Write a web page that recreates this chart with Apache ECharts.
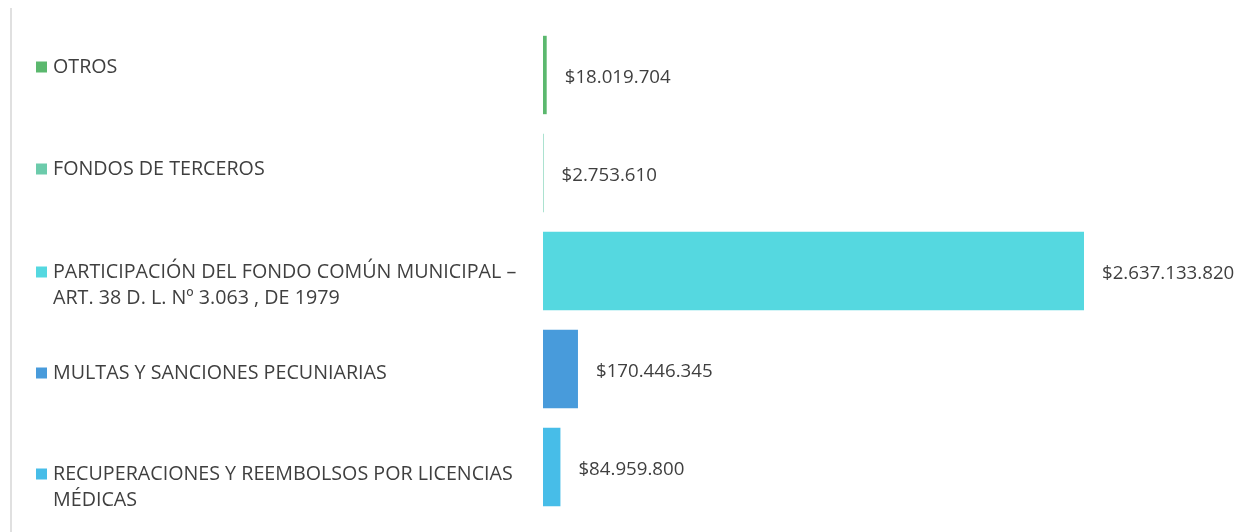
<!DOCTYPE html>
<html>
<head>
<meta charset="utf-8">
<script src="https://cdn.jsdelivr.net/npm/echarts@6/dist/echarts.min.js"></script>
<style>
  html, body { margin: 0; padding: 0; background: #fff; }
  #chart { width: 1247px; height: 532px; }
</style>
</head>
<body>
<div id="chart"></div>
<script>
  var categories = [
    'OTROS',
    'FONDOS DE TERCEROS',
    'PARTICIPACIÓN DEL FONDO COMÚN MUNICIPAL –\nART. 38 D. L. Nº 3.063 , DE 1979',
    'MULTAS Y SANCIONES PECUNIARIAS',
    'RECUPERACIONES Y REEMBOLSOS POR LICENCIAS\nMÉDICAS'
  ];
  var values = [18019704, 2753610, 2637133820, 170446345, 84959800];
  var colors = ['#5bb86e', '#6ccbab', '#55d8e0', '#489bdb', '#47bde8'];

  // vertical nudge of each legend-style label (px, + is down)
  var labelNudge = [-8, -4, 14, 4, 20];

  function money(v) {
    return '$' + String(v).replace(/\B(?=(\d{3})+(?!\d))/g, '.');
  }

  var rich = {
    t: { fontFamily: 'Open Sans', fontSize: 19.7, color: '#3f3f3f', lineHeight: 26, padding: [0, 0, 0, 6] },
    sp: { width: 11, height: 11 }
  };
  colors.forEach(function (c, i) {
    rich['sq' + i] = { width: 11, height: 11, backgroundColor: c };
    var h = Math.abs(labelNudge[i]) * 2;
    rich['g' + i] = { width: 1, height: h, lineHeight: h };
  });

  var chart = echarts.init(document.getElementById('chart'));
  var option = {
    animation: false,
    grid: { left: 543, top: 26, width: 541, bottom: 16, outerBoundsMode: 'none', containLabel: false },
    xAxis: {
      type: 'value',
      min: 0,
      max: 'dataMax',
      show: false
    },
    yAxis: {
      type: 'category',
      inverse: true,
      data: categories,
      axisLine: { show: false },
      axisTick: { show: false },
      splitLine: { show: false },
      axisLabel: {
        align: 'left',
        margin: 507,
        formatter: function (val) {
          var idx = categories.indexOf(val);
          var lines = val.split('\n');
          var txt = lines.map(function (l, k) {
            return (k === 0 ? '{sq' + idx + '|}' : '{sp|}') + '{t|' + l + '}';
          }).join('\n');
          if (labelNudge[idx] > 0) txt = '{g' + idx + '|}\n' + txt;
          else if (labelNudge[idx] < 0) txt = txt + '\n{g' + idx + '|}';
          return txt;
        },
        rich: rich
      }
    },
    graphic: [{
      type: 'line',
      shape: { x1: 11, y1: 8, x2: 11, y2: 532 },
      style: { stroke: '#e0e0e0', lineWidth: 2 }
    }],
    series: [{
      type: 'bar',
      data: values.map(function (v, i) {
        return { value: v, itemStyle: { color: colors[i] } };
      }),
      barCategoryGap: '20%',
      label: {
        show: true,
        position: 'right',
        distance: 18,
        offset: [0, 3],
        fontFamily: 'Open Sans',
        fontSize: 18.7,
        color: '#3f3f3f',
        formatter: function (p) { return money(p.value); }
      }
    }]
  };
  chart.setOption(option);
</script>
</body>
</html>
